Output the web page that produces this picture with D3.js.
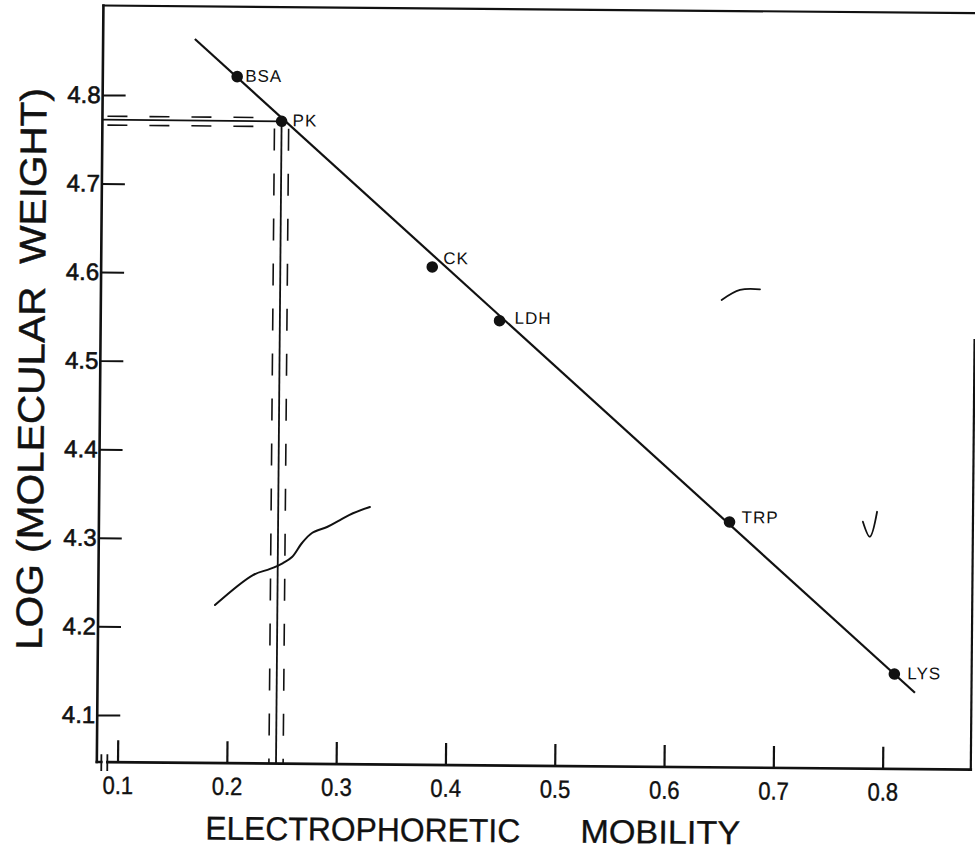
<!DOCTYPE html>
<html>
<head>
<meta charset="utf-8">
<script src="https://cdn.jsdelivr.net/npm/d3@7"></script>
<style>
  html, body { margin: 0; background: #fff; }
  svg { display: block; }
  text { white-space: pre; }
</style>
</head>
<body>
<svg id="chart" width="975" height="859"></svg>
<script>
// Protein standards: electrophoretic mobility against log(molecular weight)
const proteins = ["BSA", "PK", "CK", "LDH", "TRP", "LYS"];
const mobility = [0.204, 0.245, 0.384, 0.446, 0.658, 0.810];
const logMW    = [4.822, 4.772, 4.609, 4.549, 4.324, 4.154];

// Calibration line through the standards (end points)
const fitMobility = [0.165, 0.829];
const fitLogMW    = [4.864, 4.133];

// Read-off for PK, with its uncertainty band
const pkMobility = 0.245;
const pkLogMW = 4.772;
const pkMobilityBand = [0.2385, 0.2515];
const pkLogMWBand = [4.776, 4.766];

// Freehand trace in the lower left of the plot
const traceMobility = [0.1879, 0.2224, 0.2380, 0.2498, 0.2580, 0.2670, 0.2761, 0.2898, 0.3016, 0.3134, 0.3289];
const traceLogMW    = [4.2252, 4.2594, 4.2665, 4.2733, 4.2802, 4.2961, 4.3075, 4.3144, 4.3224, 4.3302, 4.3374];

// Small pen strokes on the sheet
const strokeA = { m: [0.649, 0.6657, 0.684], v: [4.5746, 4.5861, 4.587] };
const strokeB = { m: [0.780, 0.7865, 0.7929], v: [4.3257, 4.3088, 4.3370] };

const xTicks = [0.1, 0.2, 0.3, 0.4, 0.5, 0.6, 0.7, 0.8];
const yTicks = [4.1, 4.2, 4.3, 4.4, 4.5, 4.6, 4.7, 4.8];
const xTitleWords = ["ELECTROPHORETIC", "MOBILITY"];
const yTitle = "LOG (MOLECULAR  WEIGHT)";

// ---- layout ----
const frame = { left: 100, right: 974, top: 9, bottom: 765.5 };
const ink = "#111";
const font = "'Liberation Sans', Arial, Helvetica, sans-serif";

const svg = d3.select("#chart");
svg.append("rect").attr("width", 975).attr("height", 859).attr("fill", "#fff");

// the whole sheet sits slightly turned
const g = svg.append("g").attr("transform", "rotate(0.5,500,400)");

const x = d3.scaleLinear().domain([0.1, 0.8]).range([120.7, 885.8]);
const y = d3.scaleLinear().domain([4.1, 4.8]).range([718.4, 98.4]);

// frame: top, right (lower part), left, bottom with axis break
const frameG = g.append("g").attr("stroke", ink).attr("fill", "none").attr("stroke-linecap", "square");
frameG.append("line").attr("x1", frame.left).attr("x2", frame.right).attr("y1", frame.top).attr("y2", frame.top).attr("stroke-width", 2.2);
frameG.append("line").attr("x1", frame.right).attr("x2", frame.right).attr("y1", 336).attr("y2", frame.bottom).attr("stroke-width", 2.2);
frameG.append("line").attr("x1", frame.left).attr("x2", frame.left).attr("y1", frame.top).attr("y2", frame.bottom).attr("stroke-width", 2.6);
frameG.append("line").attr("x1", frame.left).attr("x2", 104.5).attr("y1", frame.bottom).attr("y2", frame.bottom).attr("stroke-width", 2.6);
frameG.append("line").attr("x1", 110.5).attr("x2", frame.right).attr("y1", frame.bottom).attr("y2", frame.bottom).attr("stroke-width", 2.6);
[104.5, 110.5].forEach(bx => {
  frameG.append("line").attr("x1", bx).attr("x2", bx)
    .attr("y1", frame.bottom - 7).attr("y2", frame.bottom + 8).attr("stroke-width", 1.8);
});

// axes
const xAxis = d3.axisBottom(x).tickValues(xTicks).tickFormat(d3.format(".1f"))
  .tickSizeInner(-22).tickSizeOuter(0).tickPadding(14);
const xg = g.append("g").attr("transform", `translate(0,${frame.bottom})`).call(xAxis);
xg.select(".domain").remove();
xg.selectAll(".tick line").attr("stroke", ink).attr("stroke-width", 2.2);
xg.selectAll(".tick text").attr("fill", ink).attr("font-family", font).attr("font-size", 25)
  .attr("stroke", ink).attr("stroke-width", 0.4)
  .attr("transform", "scale(0.88,1)");

const yAxis = d3.axisLeft(y).tickValues(yTicks).tickFormat(d3.format(".1f"))
  .tickSizeInner(-23).tickSizeOuter(0).tickPadding(2);
const yg = g.append("g").attr("transform", `translate(${frame.left},0)`).call(yAxis);
yg.select(".domain").remove();
yg.selectAll(".tick line").attr("stroke", ink).attr("stroke-width", 2);
yg.selectAll(".tick text").attr("fill", ink).attr("font-family", font).attr("font-size", 24)
  .attr("stroke", ink).attr("stroke-width", 0.6);

// axis titles
g.append("text").text(xTitleWords[0])
  .attr("x", 209).attr("y", 842).attr("font-family", font).attr("font-size", 33).attr("fill", ink)
  .attr("stroke", ink).attr("stroke-width", 0.3)
  .attr("textLength", 315).attr("lengthAdjust", "spacingAndGlyphs");
g.append("text").text(xTitleWords[1])
  .attr("x", 584).attr("y", 842).attr("font-family", font).attr("font-size", 33).attr("fill", ink)
  .attr("stroke", ink).attr("stroke-width", 0.3)
  .attr("textLength", 160).attr("lengthAdjust", "spacingAndGlyphs");
g.append("text").text(yTitle)
  .attr("transform", "translate(44,373) rotate(-90)")
  .attr("text-anchor", "middle").attr("font-family", font).attr("font-size", 37).attr("fill", ink)
  .attr("stroke", ink).attr("stroke-width", 0.5)
  .attr("textLength", 562).attr("lengthAdjust", "spacingAndGlyphs");

// PK read-off lines
const ref = g.append("g").attr("stroke", ink).attr("fill", "none");
ref.append("line")
  .attr("x1", frame.left).attr("x2", x(pkMobility))
  .attr("y1", y(pkLogMW)).attr("y2", y(pkLogMW)).attr("stroke-width", 1.8);
ref.append("line")
  .attr("x1", x(pkMobility)).attr("x2", x(pkMobility))
  .attr("y1", y(pkLogMW)).attr("y2", frame.bottom).attr("stroke-width", 1.8);
pkLogMWBand.forEach(v => {
  ref.append("line")
    .attr("x1", frame.left + 5).attr("x2", x(pkMobilityBand[0]))
    .attr("y1", y(v)).attr("y2", y(v))
    .attr("stroke-width", 1.6).attr("stroke-dasharray", "20,22");
});
pkMobilityBand.forEach(m => {
  ref.append("line")
    .attr("x1", x(m)).attr("x2", x(m))
    .attr("y1", y(pkLogMWBand[1]) + 2).attr("y2", frame.bottom)
    .attr("stroke-width", 1.6).attr("stroke-dasharray", "22,23");
});

// calibration line
const line = d3.line().x(d => x(d[0])).y(d => y(d[1]));
g.append("path")
  .datum(d3.zip(fitMobility, fitLogMW))
  .attr("d", line).attr("stroke", ink).attr("stroke-width", 2.2).attr("fill", "none");

// freehand trace
g.append("path")
  .datum(d3.zip(traceMobility, traceLogMW))
  .attr("d", line.curve(d3.curveCatmullRom))
  .attr("stroke", ink).attr("stroke-width", 2).attr("fill", "none").attr("stroke-linecap", "round");

// pen strokes
[strokeA, strokeB].forEach(s => {
  g.append("path")
    .datum(d3.zip(s.m, s.v))
    .attr("d", d3.line().x(d => x(d[0])).y(d => y(d[1])).curve(d3.curveCatmullRom))
    .attr("stroke", ink).attr("stroke-width", 1.8).attr("fill", "none").attr("stroke-linecap", "round");
});

// standards
const pts = proteins.map((name, i) => ({ name, m: mobility[i], v: logMW[i] }));
const labelOffset = {
  BSA: [8, 5], PK: [11, 5], CK: [11, -3], LDH: [15, 3], TRP: [12, 1], LYS: [13, 5]
};
g.selectAll("circle.std").data(pts).join("circle")
  .attr("class", "std")
  .attr("cx", d => x(d.m)).attr("cy", d => y(d.v)).attr("r", 5.8).attr("fill", ink);
g.selectAll("text.std").data(pts).join("text")
  .attr("class", "std")
  .attr("x", d => x(d.m) + labelOffset[d.name][0])
  .attr("y", d => y(d.v) + labelOffset[d.name][1])
  .attr("font-family", font).attr("font-size", 17).attr("letter-spacing", 1)
  .attr("fill", ink).text(d => d.name);
</script>
</body>
</html>
